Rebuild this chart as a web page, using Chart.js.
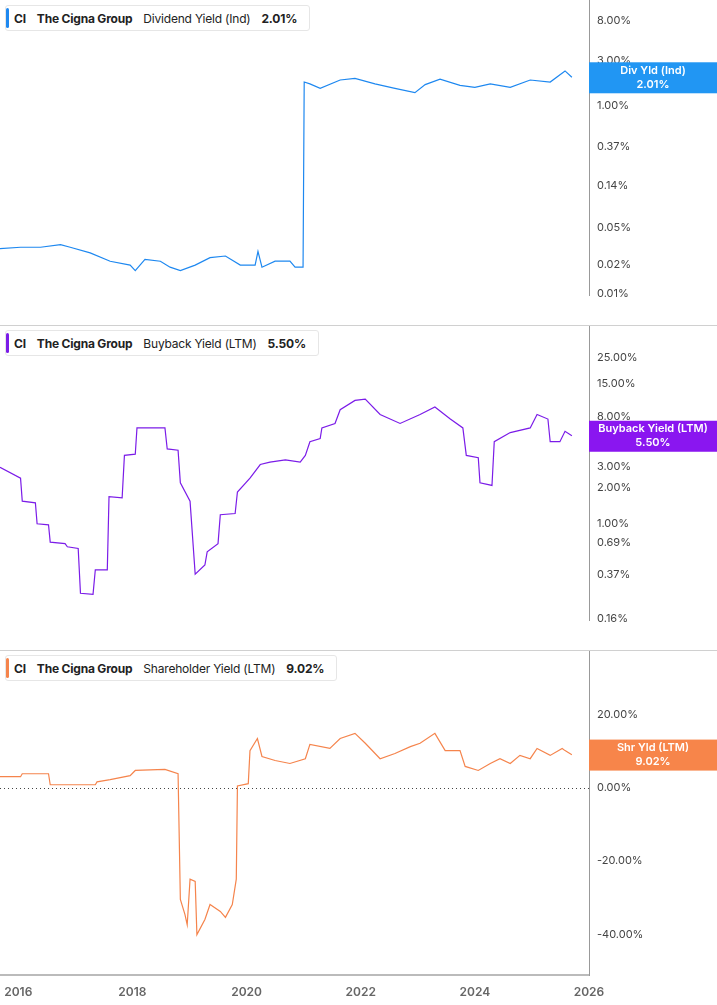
<!DOCTYPE html>
<html><head><meta charset="utf-8">
<script src="https://cdn.jsdelivr.net/npm/chart.js@4"></script>
<style>
body{margin:0;background:#fff;font-family:Inter,"Noto Sans",sans-serif;}
#wrap{position:relative;width:717px;height:1005px;overflow:hidden;}
canvas{position:absolute;left:0;}
.sep{position:absolute;left:0;width:717px;height:1px;background:#d0d0d0;}
.leg{position:absolute;left:5px;height:24px;background:#fff;border:1px solid #e6e6e6;border-radius:3px;font-size:12px;color:#222;display:flex;align-items:center;padding:0 12px 0 8px;white-space:nowrap;letter-spacing:-0.2px;}
.leg .bar{position:absolute;left:0;top:2px;bottom:2px;width:3px;border-radius:2px;}
.leg b{font-weight:700;margin-right:11px;}
.leg span{margin-right:11px;}
</style></head><body>
<div id="wrap">
<canvas id="c1" width="717" height="325" style="top:0"></canvas>
<canvas id="c2" width="717" height="325" style="top:325px"></canvas>
<canvas id="c3" width="717" height="355" style="top:650px"></canvas>
<div class="sep" style="top:325px"></div>
<div class="sep" style="top:650px"></div>
<div class="leg" style="top:5px"><div class="bar" style="background:#1e88f0"></div><b>CI</b><b>The Cigna Group</b><span>Dividend Yield (Ind)</span><b style="margin-right:0">2.01%</b></div>
<div class="leg" style="top:330px"><div class="bar" style="background:#7b1ce8"></div><b>CI</b><b>The Cigna Group</b><span>Buyback Yield (LTM)</span><b style="margin-right:0">5.50%</b></div>
<div class="leg" style="top:655px"><div class="bar" style="background:#f5844c"></div><b>CI</b><b>The Cigna Group</b><span>Shareholder Yield (LTM)</span><b style="margin-right:0">9.02%</b></div>
</div>
<script>
const divDates=[2015.68,2016.04,2016.39,2016.74,2016.91,2017.26,2017.61,2017.96,2018.05,2018.22,2018.49,2018.66,2018.84,2019.10,2019.36,2019.63,2019.89,2020.15,2020.20,2020.27,2020.50,2020.76,2020.85,2020.99,2021.01,2021.11,2021.29,2021.64,2021.90,2022.25,2022.60,2022.95,2023.13,2023.39,2023.74,2024.00,2024.27,2024.62,2024.97,2025.32,2025.58,2025.70];
const divValues=[0.030,0.031,0.031,0.033,0.031,0.027,0.022,0.020,0.0175,0.023,0.022,0.019,0.0175,0.020,0.024,0.025,0.020,0.020,0.028,0.019,0.022,0.022,0.019,0.019,1.79,1.71,1.53,1.88,1.96,1.71,1.53,1.38,1.68,1.92,1.65,1.57,1.71,1.57,1.88,1.79,2.35,2.01];
const bbDates=[2015.68,2016.04,2016.07,2016.30,2016.33,2016.53,2016.56,2016.82,2016.86,2017.05,2017.09,2017.31,2017.35,2017.56,2017.59,2017.82,2017.86,2018.05,2018.08,2018.57,2018.61,2018.80,2018.84,2019.01,2019.10,2019.27,2019.31,2019.50,2019.54,2019.80,2019.84,2020.06,2020.24,2020.41,2020.68,2020.94,2021.03,2021.11,2021.29,2021.32,2021.55,2021.64,2021.90,2022.08,2022.34,2022.69,2023.04,2023.30,2023.57,2023.79,2023.85,2024.06,2024.09,2024.30,2024.34,2024.62,2024.97,2025.09,2025.28,2025.32,2025.49,2025.58,2025.70];
const bbValues=[2.99,2.42,1.55,1.50,1.00,0.98,0.70,0.68,0.64,0.62,0.26,0.255,0.41,0.41,1.69,1.65,3.76,3.85,6.4,6.4,4.26,4.16,2.21,1.55,0.376,0.45,0.58,0.68,1.19,1.22,1.85,2.42,3.15,3.3,3.44,3.3,3.76,4.9,5.2,6.4,6.98,9.1,10.9,11.2,8.3,6.98,8.3,9.6,7.6,6.4,3.76,3.6,2.21,2.1,4.9,5.85,6.4,8.3,7.6,4.9,4.9,6.0,5.5];
const shrDates=[2015.68,2016.04,2016.07,2016.53,2016.56,2017.35,2017.38,2017.61,2017.96,2018.05,2018.57,2018.80,2018.84,2018.92,2018.96,2019.01,2019.10,2019.13,2019.27,2019.36,2019.54,2019.63,2019.75,2019.82,2019.84,2020.03,2020.06,2020.19,2020.27,2020.50,2020.76,2021.03,2021.11,2021.46,2021.64,2021.90,2022.08,2022.34,2022.60,2022.87,2023.04,2023.30,2023.48,2023.74,2023.83,2024.06,2024.27,2024.44,2024.62,2024.79,2024.97,2025.09,2025.32,2025.53,2025.58,2025.70];
const shrValues=[3.0,3.0,3.8,3.8,0.8,0.8,1.6,2.2,3.3,4.7,5.0,3.8,-30.4,-34.5,-37.3,-24.9,-25.5,-40.0,-35.9,-31.8,-33.7,-35.3,-31.8,-24.9,0.5,1.1,10.1,13.4,8.5,7.4,6.6,7.9,11.8,10.7,13.4,14.8,12.1,7.9,9.3,11.2,12.1,14.8,10.1,10.1,5.8,4.7,6.6,7.9,6.6,8.8,7.9,10.7,8.8,10.7,10.1,9.0];
const divTicks=[8,3,1,0.37,0.14,0.05,0.02,0.01];
const bbTicks=[25,15,8,3,2,1,0.69,0.37,0.16];
const shrTicks=[20,0,-20,-40];
const yearTicks=[2016,2018,2020,2022,2024,2026];

const pts=(d,v)=>d.map((x,i)=>({x:x,y:v[i]}));
const boxPlugin={id:'box',afterDraw(ch){const p=ch.options.plugins.box;const c=ch.ctx;const ya=ch.scales.y;const r=ch.chartArea.right;
 c.save();
 c.fillStyle='#444';c.font='11px Inter';c.textAlign='left';c.textBaseline='middle';
 p.ticks.forEach(t=>{c.fillText(t.toFixed(2)+'%',r+8,ya.getPixelForValue(t));});
 const yp=ya.getPixelForValue(p.value);
 c.fillStyle=p.color;c.fillRect(r,yp-15,717-r,31);
 c.fillStyle='#fff';c.font='600 11px Inter';c.textAlign='center';const cx=(r+717)/2;
 c.fillText(p.l1,cx,yp-7);c.fillText(p.l2,cx,yp+7);
 if(p.zero){const z=ya.getPixelForValue(0);c.strokeStyle='#444';c.setLineDash([1,3]);c.lineWidth=1;c.beginPath();c.moveTo(ch.chartArea.left,Math.round(z)+0.5);c.lineTo(r,Math.round(z)+0.5);c.stroke();}
 c.restore();}};
function mk(id,d,v,color,type,min,max,ticks,showX,box){
 box.ticks=ticks;
 return new Chart(document.getElementById(id),{type:'line',plugins:[boxPlugin],
 data:{datasets:[{data:pts(d,v),borderColor:color,borderWidth:1.2,pointRadius:0,tension:0}]},
 options:{responsive:false,animation:false,layout:{padding:0},
  plugins:{legend:{display:false},tooltip:{enabled:false},box:box},
  scales:{
   x:{type:'linear',min:2015.68,max:2026,display:showX,grid:{display:false,drawTicks:true},
      border:{display:true,color:'#bbb',width:2},
      afterBuildTicks:s=>{s.ticks=yearTicks.map(t=>({value:t}));},
      afterFit:s=>{s.height=30;},
      ticks:{color:'#666',font:{family:'Inter',size:12,weight:'600'},callback:v=>String(v),maxRotation:0,padding:2}},
   y:{type:type,position:'right',min:min,max:max,grid:{display:false,drawTicks:false},
      border:{display:true,color:'#999'},
      afterBuildTicks:s=>{s.ticks=ticks.map(t=>({value:t}));},
      afterFit:s=>{s.width=717-589;},
      ticks:{display:false}}
  }}});
}
mk('c1',divDates,divValues,'#1e88f0','logarithmic',0.0096,13.4,divTicks,false,{value:2.01,color:'#2196f3',l1:'Div Yld (Ind)',l2:'2.01%'});
mk('c2',bbDates,bbValues,'#7b1ce8','logarithmic',0.155,47,bbTicks,false,{value:5.5,color:'#8a16f0',l1:'Buyback Yield (LTM)',l2:'5.50%'});
mk('c3',shrDates,shrValues,'#f5844c','linear',-51,37.5,shrTicks,true,{value:9.02,color:'#f7854a',l1:'Shr Yld (LTM)',l2:'9.02%',zero:true});
</script></body></html>
